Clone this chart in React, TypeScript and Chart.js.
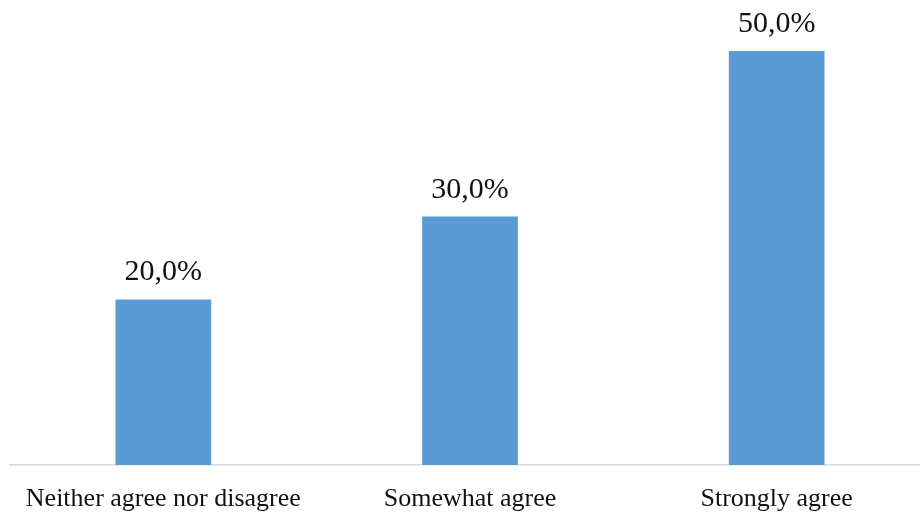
import React, { useEffect, useRef } from "react";
import { Chart, registerables } from "chart.js";

Chart.register(...registerables);

const categories = ["Neither agree nor disagree", "Somewhat agree", "Strongly agree"];
const shares = [20, 30, 50];
const valueLabels = ["20,0%", "30,0%", "50,0%"];

const BAR_COLOR = "#5B9BD5";
const SERIF = "'Liberation Serif', 'Times New Roman', serif";

const valueLabelPlugin = {
  id: "valueLabels",
  afterDatasetsDraw(chart: any) {
    const ctx = chart.ctx;
    const meta = chart.getDatasetMeta(0);
    ctx.save();
    ctx.font = `30px ${SERIF}`;
    ctx.fillStyle = "#111";
    ctx.textAlign = "center";
    ctx.textBaseline = "alphabetic";
    meta.data.forEach((bar: any, i: number) => {
      ctx.fillText(valueLabels[i], bar.x, bar.y - 19);
    });
    ctx.restore();
  },
};

export default function App() {
  const canvasRef = useRef<HTMLCanvasElement | null>(null);

  useEffect(() => {
    document.body.style.margin = "0";
    document.body.style.overflow = "hidden";
    const canvas = canvasRef.current;
    if (!canvas) return;
    const chart = new Chart(canvas, {
      type: "bar",
      data: {
        labels: categories,
        datasets: [
          {
            data: shares,
            backgroundColor: BAR_COLOR,
            categoryPercentage: 1,
            barPercentage: 0.312,
          },
        ],
      },
      options: {
        animation: false,
        responsive: false,
        maintainAspectRatio: false,
        layout: { padding: { left: 10, right: 10, top: 51, bottom: 0 } },
        plugins: {
          legend: { display: false },
          tooltip: { enabled: false },
        },
        scales: {
          x: {
            grid: { display: false },
            border: { display: true, color: "#D9D9D9", width: 1.5 },
            ticks: {
              color: "#111",
              font: { family: SERIF, size: 26 },
              padding: 11,
              maxRotation: 0,
              autoSkip: false,
            },
            afterFit(scale: any) {
              scale.height = 49;
            },
          },
          y: {
            display: false,
            min: 0,
            max: 50,
          },
        },
      },
      plugins: [valueLabelPlugin],
    });
    return () => chart.destroy();
  }, []);

  return (
    <div style={{ position: "fixed", left: 0, top: 0, width: 920, height: 514, overflow: "hidden", background: "#fff" }}>
      <canvas ref={canvasRef} width={940} height={514} style={{ display: "block" }} />
    </div>
  );
}
